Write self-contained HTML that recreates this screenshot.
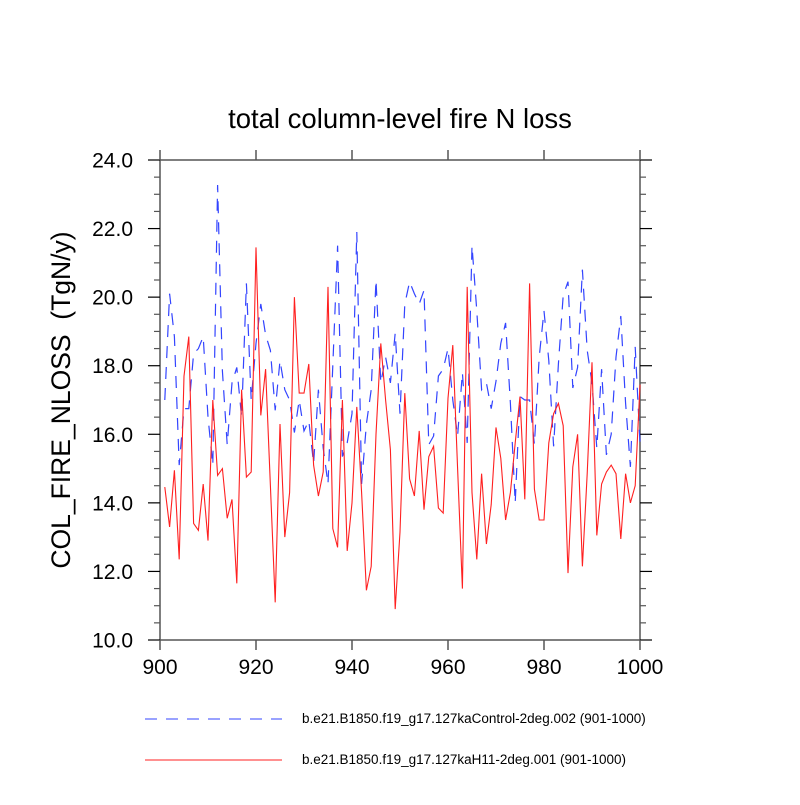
<!DOCTYPE html>
<html><head><meta charset="utf-8"><style>
body{margin:0;background:#fff;}
svg text{font-family:"Liberation Sans",sans-serif;fill:#000;}
</style></head><body>
<svg id="chart" width="800" height="800" xmlns="http://www.w3.org/2000/svg">
<rect width="800" height="800" fill="#fff"/>
<text x="400" y="128" font-size="27.5" text-anchor="middle">total column-level fire N loss</text>
<text transform="translate(70,400) rotate(-90)" font-size="26.5" text-anchor="middle" xml:space="preserve" style="white-space:pre">COL_FIRE_NLOSS  (TgN/y)</text>
<g id="axes"></g>
<g id="series"></g>
<g>
<line x1="145" y1="719" x2="282" y2="719" stroke="#3344ff" stroke-width="1" stroke-dasharray="12,9"/>
<text x="302" y="723" font-size="13.5">b.e21.B1850.f19_g17.127kaControl-2deg.002 (901-1000)</text>
<line x1="145" y1="760" x2="282" y2="760" stroke="#ff2020" stroke-width="1"/>
<text x="302" y="764" font-size="13.5">b.e21.B1850.f19_g17.127kaH11-2deg.001 (901-1000)</text>
</g>
</svg>
<script>
const xTicks=[900,920,940,960,980,1000];
const yTicks=[10,12,14,16,18,20,22,24];
const yTickLabels=["10.0","12.0","14.0","16.0","18.0","20.0","22.0","24.0"];
const controlValues=[17.0,20.1,18.85,15.1,16.75,16.75,18.35,18.5,18.85,16.5,15.1,23.27,17.85,15.7,17.5,17.95,16.5,20.4,17.0,18.65,19.8,18.9,18.45,16.7,18.15,17.3,17.0,16.05,17.0,16.1,16.4,15.15,17.3,15.6,14.55,18.0,21.5,15.35,15.75,16.6,21.9,14.55,16.3,17.3,20.5,17.5,18.25,17.5,18.95,16.6,19.8,20.45,20.1,19.8,20.2,15.7,15.95,17.7,17.9,18.5,17.0,15.95,17.8,15.75,21.5,19.6,17.3,17.5,16.75,17.55,18.65,19.25,16.9,14.0,17.1,17.0,17.0,15.7,18.25,19.6,18.15,15.65,18.05,20.05,20.45,17.35,17.95,20.8,18.45,17.5,15.6,17.9,15.4,16.0,18.25,19.45,16.9,15.05,18.55,15.75];
const h11Values=[14.46,13.3,14.95,12.35,17.7,18.85,13.4,13.2,14.55,12.9,17.0,14.8,15.0,13.55,14.1,11.65,17.3,14.75,14.9,21.45,16.55,17.9,14.5,11.1,16.3,13.0,14.3,20.0,17.2,17.2,18.05,15.1,14.2,14.9,20.3,13.25,12.7,17.0,12.6,14.0,16.8,14.3,11.45,12.15,16.0,18.65,17.0,15.55,10.9,13.15,17.2,14.7,14.2,16.1,13.8,15.35,15.65,13.85,13.7,17.05,18.6,15.0,11.5,20.3,14.3,12.35,14.85,12.8,13.95,16.2,15.3,13.5,14.3,15.75,17.1,14.1,20.4,14.4,13.5,13.5,15.75,16.6,16.9,16.25,11.95,15.05,16.0,12.15,14.85,18.1,13.05,14.55,14.9,15.1,14.85,12.95,14.85,14.0,14.5,17.45];
const startYear=901;
const NS="http://www.w3.org/2000/svg";
const L=160,R=640,T=160,B=640;
function xs(v){return L+(v-900)/100*(R-L);}
function ys(v){return B-(v-10)/14*(B-T);}
function mk(tag,attrs,parent){const e=document.createElementNS(NS,tag);for(const k in attrs)e.setAttribute(k,attrs[k]);parent.appendChild(e);return e;}
const ax=document.getElementById('axes');
const frame=mk('rect',{x:L,y:T,width:R-L,height:B-T,fill:'none',stroke:'#555','stroke-width':1.5},ax);


for(let v=10;v<=24.001;v+=0.5){
  const major=Math.abs(v-Math.round(v/2)*2)<1e-6;
  const len=major?12:6;const y=ys(v);
  const t1=mk('line',{x1:L-len,y1:y,x2:L,y2:y,stroke:major?'#000':'#555','stroke-width':1.2},ax);
  
  
  const t2=mk('line',{x1:R,y1:y,x2:R+len,y2:y,stroke:major?'#000':'#555','stroke-width':1.2},ax);
  
  
}
yTicks.forEach((v,i)=>{
  const t=mk('text',{x:L-27,y:ys(v)+7.5,'font-size':21,'text-anchor':'end'},ax);
  t.textContent=yTickLabels[i];
  
  
});
xTicks.forEach(v=>{
  const x=xs(v);
  const a=mk('line',{x1:x,y1:B,x2:x,y2:B+10,stroke:'#555','stroke-width':1.5},ax);
  
  
  const b=mk('line',{x1:x,y1:T-10,x2:x,y2:T,stroke:'#555','stroke-width':1.5},ax);
  
  
  const t=mk('text',{x:x,y:B+34,'font-size':21,'text-anchor':'middle'},ax);
  t.textContent=String(v);
  
  
});
const sg=document.getElementById('series');
function pts(arr){return arr.map((v,i)=>xs(startYear+i).toFixed(1)+','+ys(v).toFixed(1)).join(' ');}
const pc=mk('polyline',{points:pts(controlValues),fill:'none',stroke:'#3344ff','stroke-width':1.2,'stroke-dasharray':'12,9'},sg);


const ph=mk('polyline',{points:pts(h11Values),fill:'none',stroke:'#ff2020','stroke-width':1.1},sg);


</script>
</body></html>
